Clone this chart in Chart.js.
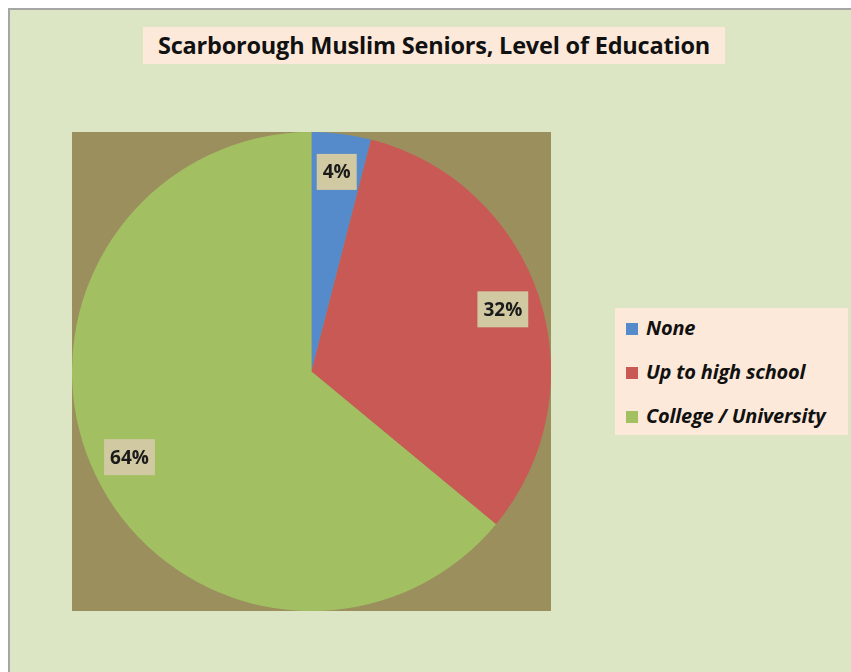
<!DOCTYPE html>
<html>
<head>
<meta charset="utf-8">
<script src="https://cdn.jsdelivr.net/npm/chart.js@4"></script>
<style>
    html, body { margin: 0; padding: 0; background: #ffffff; }
    body { width: 851px; height: 672px; position: relative; overflow: hidden; font-family: 'Open Sans', sans-serif; }
    #frame {
        position: absolute; left: 8px; top: 8px; width: 845px; height: 666px;
        background: #dce6c4; border-left: 2px solid #a6a6a6; border-top: 2px solid #a6a6a6;
    }
    #title {
        position: absolute; left: 143px; top: 27px; width: 582px; height: 37px;
        background: #fde9d9; color: #111; font-weight: bold; font-size: 23.5px;
        line-height: 36px; text-align: center; white-space: nowrap; letter-spacing: -0.2px;
    }
    #pie-wrap { position: absolute; left: 72px; top: 132px; width: 479px; height: 479px; background: #9c8f5e; }
    #legend {
        position: absolute; left: 615px; top: 308px; width: 233px; height: 127px;
        background: #fde9d9;
    }
    .legend-item {
        position: absolute; left: 11px; height: 24px; line-height: 24px;
        font-size: 20px; font-weight: bold; font-style: italic; color: #111; white-space: nowrap;
        letter-spacing: -0.2px;
    }
    .legend-item span { display: inline-block; width: 12px; height: 12px; margin-right: 8px; vertical-align: 0px; }
</style>
</head>
<body>
<div id="frame"></div>
<div id="title">Scarborough Muslim Seniors, Level of Education</div>
<div id="pie-wrap"><canvas id="pie" width="479" height="479"></canvas></div>
<div id="legend"></div>
<script>
const CATEGORIES = ['None', 'Up to high school', 'College / University'];
const SHARES = [4, 32, 64];
const COLORS = ['#568bcb', '#c85955', '#a2c062'];

// Percentage boxes drawn inside each slice
const sliceLabels = {
    id: 'sliceLabels',
    afterDatasetsDraw(chart) {
        const ctx = chart.ctx;
        const arcs = chart.getDatasetMeta(0).data;
        const total = SHARES.reduce((a, b) => a + b, 0);
        ctx.save();
        ctx.font = 'bold 19px "Open Sans", sans-serif';
        ctx.textAlign = 'center';
        ctx.textBaseline = 'middle';
        arcs.forEach((arc, i) => {
            const mid = (arc.startAngle + arc.endAngle) / 2;
            const r = arc.outerRadius * 0.84;
            const x = arc.x + Math.cos(mid) * r;
            const y = arc.y + Math.sin(mid) * r;
            const text = Math.round(SHARES[i] / total * 100) + '%';
            const w = ctx.measureText(text).width + 12;
            const h = 36;
            ctx.fillStyle = '#d0c9a2';
            ctx.fillRect(x - w / 2, y - h / 2, w, h);
            ctx.fillStyle = '#1a1a1a';
            ctx.fillText(text, x, y + 1);
        });
        ctx.restore();
    }
};

const pieChart = new Chart(document.getElementById('pie'), {
    type: 'pie',
    data: {
        labels: CATEGORIES,
        datasets: [{
            data: SHARES,
            backgroundColor: COLORS,
            borderWidth: 0
        }]
    },
    options: {
        responsive: false,
        animation: false,
        layout: { padding: 0 },
        plugins: {
            legend: { display: false },
            tooltip: { enabled: false }
        }
    },
    plugins: [sliceLabels]
});

// Legend built from the same arrays
const legend = document.getElementById('legend');
CATEGORIES.forEach((name, i) => {
    const item = document.createElement('div');
    item.className = 'legend-item';
    item.style.top = (8 + i * 44) + 'px';
    item.innerHTML = `<span style="background:${COLORS[i]}"></span>${name}`;
    legend.appendChild(item);
});
</script>
</body>
</html>
